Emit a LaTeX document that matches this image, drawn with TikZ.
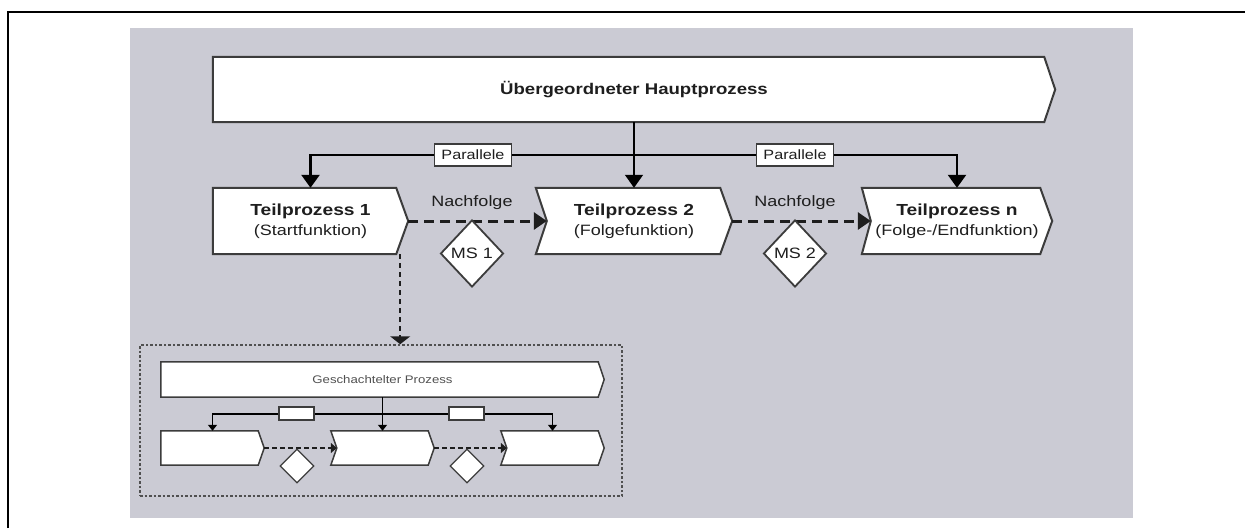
\documentclass[tikz,border=0pt]{standalone}
\usepackage{fontspec}
\setmainfont{Liberation Sans}
\newfontfamily\widesans[FakeStretch=1.2]{Liberation Sans}
\usetikzlibrary{arrows.meta,calc,shapes.geometric}

\definecolor{panel}{RGB}{203,203,212}
\definecolor{edge}{RGB}{60,60,60}
\definecolor{ink}{RGB}{30,30,30}
\definecolor{softink}{RGB}{80,80,80}

\pgfdeclarelayer{bg}
\pgfdeclarelayer{shapes}
\pgfsetlayers{bg,shapes,main}

% outline of a process chevron around a named node: #1 node, #2 tip depth, #3 notch depth, #4 line width
\newcommand\chevron[4]{%
  \begin{pgfonlayer}{shapes}
    \draw[draw=edge, fill=white, line width=#4, line join=miter]
      (#1.north west) -- ($(#1.north east)+(-#2,0)$) -- (#1.east)
      -- ($(#1.south east)+(-#2,0)$) -- (#1.south west)
      -- ($(#1.west)+(#3,0)$) -- cycle;
  \end{pgfonlayer}}

% second line of a sub-process label
\newcommand\subline[1]{{\fontsize{15}{20}\selectfont #1}}

\begin{document}
\begin{tikzpicture}[x=1pt,y=-1pt,
  proc/.style={rectangle, draw=none, inner sep=0pt, align=center, text=ink,
    font=\widesans\fontsize{16}{20}\selectfont},
  tag/.style={rectangle, draw=edge, fill=white, line width=1.5pt, inner sep=0pt,
    text=ink, font=\widesans\fontsize{13.5}{16}\selectfont},
  gate/.style={diamond, draw=edge, fill=white, line width=1.8pt, inner sep=0pt,
    text=ink, font=\widesans\fontsize{15}{18}\selectfont},
  caption/.style={text=ink, inner sep=0pt, font=\widesans\fontsize{15}{18}\selectfont},
  bigarrow/.style={-{Triangle[length=13pt,width=18pt]}, line width=2.5pt, draw=black},
  flowarrow/.style={-{Triangle[length=13pt,width=17pt]}, line width=3pt, draw=ink,
    dash pattern=on 10pt off 6pt},
  smallarrow/.style={-{Triangle[length=6pt,width=9pt]}, line width=1.2pt, draw=black},
  smallflow/.style={-{Triangle[length=6pt,width=10pt]}, line width=1.2pt, draw=ink,
    dash pattern=on 5pt off 3pt},
]
\useasboundingbox (0,0) rectangle (1245,528);

% page frame and panel
\begin{pgfonlayer}{bg}
  \fill[panel] (130,28) rectangle (1133,518);
  \draw[line width=2.5pt] (8,528) -- (8,12) -- (1245,12);
\end{pgfonlayer}

% main process
\node[proc, minimum width=842pt, minimum height=65pt,
  font=\widesans\bfseries\fontsize{15.5}{18}\selectfont] (main) at (634,89.5)
  {Übergeordneter Hauptprozess};
\chevron{main}{11}{0}{2pt}

% sub-processes
\node[proc, minimum width=195pt, minimum height=66pt] (tp1) at (310.5,221)
  {\textbf{Teilprozess 1}\\\subline{(Startfunktion)}};
\chevron{tp1}{12}{0}{2pt}
\node[proc, minimum width=196pt, minimum height=66pt] (tp2) at (634,221)
  {\textbf{Teilprozess 2}\\\subline{(Folgefunktion)}};
\chevron{tp2}{12}{11}{2pt}
\node[proc, minimum width=190pt, minimum height=66pt] (tpn) at (957,221)
  {\textbf{Teilprozess n}\\\subline{(Folge-/Endfunktion)}};
\chevron{tpn}{12}{9}{2pt}

% parallel branches
\coordinate (split) at (634,155);
\draw[bigarrow] (split) -| (tp1.north);
\draw[bigarrow] (split) -| (tpn.north);
\draw[bigarrow, line width=1.5pt] (main.south) -- (tp2.north);
\node[tag, minimum width=77pt, minimum height=22pt] (par1) at (473,155) {Parallele};
\node[tag, minimum width=77pt, minimum height=22pt] (par2) at (795,155) {Parallele};

% successions with milestones
\draw[flowarrow] (tp1.east) -- ($(tp2.west)+(11,0)$);
\draw[flowarrow] (tp2.east) -- ($(tpn.west)+(9,0)$);
\node[caption] (nf1) at (472,203) {Nachfolge};
\node[caption] (nf2) at (795,203) {Nachfolge};
\node[gate, minimum width=63pt, minimum height=67pt] (ms1) at (472,253.5) {MS 1};
\node[gate, minimum width=63pt, minimum height=67pt] (ms2) at (795,253.5) {MS 2};

% nested process frame
\node[rectangle, draw=softink, line width=1.5pt, dash pattern=on 2.5pt off 2pt,
  minimum width=482pt, minimum height=151pt, inner sep=0pt] (nest) at (381,420.5) {};
\coordinate (tp1out) at ($(tp1.south east)+(-8,0)$);
\draw[-{Triangle[length=8pt,width=20pt]}, line width=1.5pt, draw=ink,
  dash pattern=on 5pt off 4pt] (tp1out) -- (tp1out |- nest.north);

\node[proc, minimum width=443pt, minimum height=35pt, text=softink,
  font=\widesans\fontsize{11}{13}\selectfont] (g) at (382.5,379.5)
  {Geschachtelter Prozess};
\chevron{g}{6}{0}{1.5pt}

\node[proc, minimum width=103pt, minimum height=34pt] (b1) at (212.5,448) {};
\chevron{b1}{6}{0}{1.5pt}
\node[proc, minimum width=103pt, minimum height=34pt] (b2) at (382.5,448) {};
\chevron{b2}{6}{6}{1.5pt}
\node[proc, minimum width=103pt, minimum height=34pt] (b3) at (552.5,448) {};
\chevron{b3}{6}{6}{1.5pt}

\coordinate (gsplit) at (382.5,414);
\draw[smallarrow] (gsplit) -| (b1.north);
\draw[smallarrow] (gsplit) -| (b3.north);
\draw[smallarrow] (g.south) -- (b2.north);
\node[tag, line width=1.2pt, minimum width=35pt, minimum height=13pt] (s1) at (296.5,413.5) {};
\node[tag, line width=1.2pt, minimum width=35pt, minimum height=13pt] (s2) at (466.5,413.5) {};

\draw[smallflow] (b1.east) -- ($(b2.west)+(6,0)$);
\draw[smallflow] (b2.east) -- ($(b3.west)+(6,0)$);
\node[gate, line width=1.2pt, minimum width=34pt, minimum height=34pt] (d1) at (297,466) {};
\node[gate, line width=1.2pt, minimum width=34pt, minimum height=34pt] (d2) at (467,466) {};
\end{tikzpicture}
\end{document}
